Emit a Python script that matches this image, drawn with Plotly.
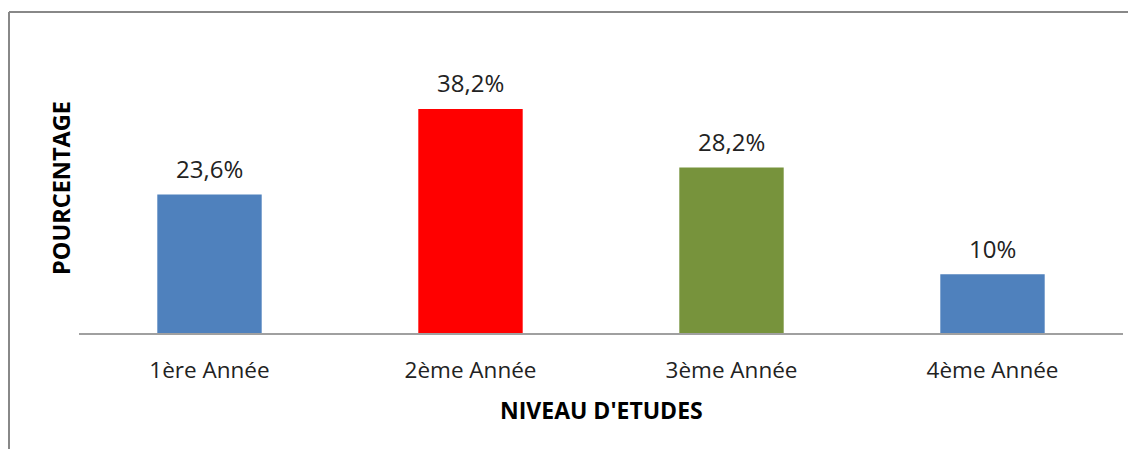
import plotly.graph_objects as go

categories = ["1ère Année", "2ème Année", "3ème Année", "4ème Année"]
values = [23.6, 38.2, 28.2, 10]
labels = ["23,6%", "38,2%", "28,2%", "10%"]
colors = ["#4F81BD", "#FF0000", "#77933C", "#4F81BD"]

# page body has an 8px margin; figure is sized to fill the rest
OFF = 8
W, H = 1136 - OFF, 449 - OFF
L, R, T, B = 79 - OFF, 13, 72 - OFF, 116
pw, ph = W - L - R, H - T - B

fig = go.Figure()
fig.add_trace(go.Bar(
    x=categories, y=values, marker_color=colors, marker_line_width=0,
    width=0.4, cliponaxis=False, hoverinfo="x+y",
))

for c, v, t in zip(categories, values, labels):
    fig.add_annotation(x=c, y=v, text=t, showarrow=False, yshift=26,
                       xanchor="center", yanchor="middle",
                       font=dict(size=24, color="#222222", family="Open Sans"))

def px(x):
    return (x - OFF - L) / pw

def py(y):
    return (H - B - (y - OFF)) / ph

# outer chart border (top and left visible)
fig.add_shape(type="line", xref="paper", yref="paper", x0=px(9), x1=px(1150), y0=py(12), y1=py(12),
              line=dict(color="#888888", width=2))
fig.add_shape(type="line", xref="paper", yref="paper", x0=px(9), x1=px(9), y0=py(12), y1=py(460),
              line=dict(color="#888888", width=2))

fig.add_annotation(text="<b>POURCENTAGE</b>", xref="paper", yref="paper", x=px(61), y=py(188),
                   textangle=-90, showarrow=False, font=dict(size=23.5, color="#000000", family="Open Sans"),
                   xanchor="center", yanchor="middle")
fig.add_annotation(text="<b>NIVEAU D'ETUDES</b>", xref="paper", yref="paper", x=px(601), y=py(410),
                   showarrow=False, font=dict(size=23, color="#000000", family="Open Sans"),
                   xanchor="center", yanchor="middle")

fig.update_layout(
    width=W, height=H, margin=dict(l=L, r=R, t=T, b=B, pad=0),
    paper_bgcolor="white", plot_bgcolor="white", showlegend=False,
    font=dict(family="Open Sans", size=18, color="#222222"),
    bargap=0.6,
)
fig.update_xaxes(showline=True, linecolor="#A0A0A0", linewidth=1.5, ticks="outside", ticklen=16,
                 tickcolor="rgba(0,0,0,0)", tickfont=dict(size=22.5, color="#222222", family="Open Sans"),
                 showgrid=False)
fig.update_yaxes(range=[0, 44.5], visible=False, showgrid=False, zeroline=False)

fig.write_html("out.html")
